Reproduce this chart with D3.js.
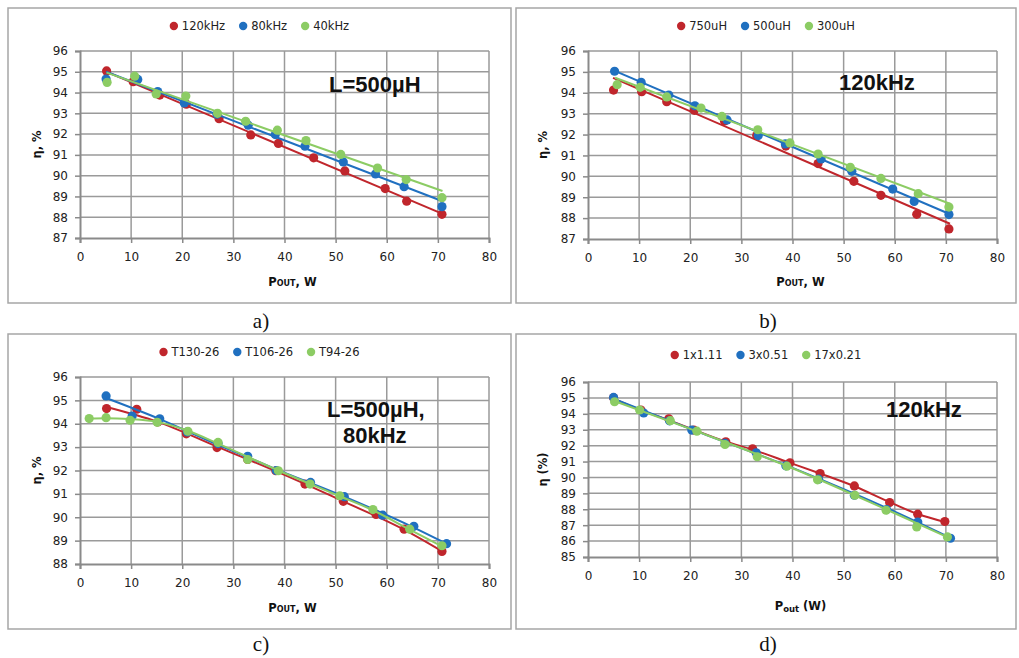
<!DOCTYPE html>
<html>
<head>
<meta charset="utf-8">
<script src="https://cdn.jsdelivr.net/npm/d3@7"></script>
<style>
  html, body { margin: 0; padding: 0; background: #fff; }
  svg { display: block; }
  text { font-family: "DejaVu Sans", Verdana, sans-serif; }
</style>
</head>
<body>
<svg id="chart" width="1019" height="658"></svg>
<script>
// ---------------- DATA ----------------
const xTicks = [0, 10, 20, 30, 40, 50, 60, 70, 80];
const yTicksA = [87, 88, 89, 90, 91, 92, 93, 94, 95, 96];
const yTicksB = [87, 88, 89, 90, 91, 92, 93, 94, 95, 96];
const yTicksC = [88, 89, 90, 91, 92, 93, 94, 95, 96];
const yTicksD = [85, 86, 87, 88, 89, 90, 91, 92, 93, 94, 95, 96];

const seriesColors = ["#c0262c", "#2070c0", "#8ccc64"];

// a) L=500uH, frequencies
const namesA = ["120kHz", "80kHz", "40kHz"];
const a120kHz = [[5.2,95.04],[10.4,94.52],[15.6,93.88],[20.8,93.44],[27.2,92.74],[33.4,91.96],[38.8,91.55],[45.7,90.86],[51.8,90.23],[59.7,89.38],[63.9,88.77],[70.8,88.14]];
const a80kHz  = [[5.1,94.65],[11.3,94.63],[15.2,94.05],[20.4,93.5],[26.8,92.96],[32.9,92.43],[38.2,91.98],[44.0,91.42],[51.5,90.66],[57.8,90.08],[63.4,89.47],[70.8,88.51]];
const a40kHz  = [[5.3,94.49],[10.7,94.79],[14.9,93.93],[20.7,93.83],[26.9,93.0],[32.4,92.62],[38.6,92.19],[44.2,91.69],[51.0,91.02],[58.2,90.37],[63.8,89.81],[70.8,88.94]];
const a120kHzTrend = [[5.0,95.02],[70.8,88.17]];
const a80kHzTrend  = [[5.1,95.0],[70.8,88.78]];
const a40kHzTrend  = [[5.2,94.96],[70.9,89.26]];

// b) 120kHz, inductances
const namesB = ["750uH", "500uH", "300uH"];
const b750uH = [[5.0,94.13],[10.5,94.05],[15.4,93.57],[20.8,93.16],[26.7,92.65],[33.0,91.95],[38.7,91.45],[45.0,90.61],[52.0,89.76],[57.3,89.09],[64.3,88.18],[70.6,87.48]];
const b500uH = [[5.2,95.03],[10.4,94.5],[15.8,93.89],[20.9,93.38],[27.2,92.7],[33.3,91.95],[38.6,91.55],[45.6,90.83],[51.6,90.24],[59.6,89.39],[63.8,88.8],[70.6,88.17]];
const b300uH = [[5.7,94.39],[10.2,94.26],[15.4,93.8],[22.1,93.27],[26.2,92.87],[33.2,92.23],[39.5,91.6],[45.0,91.07],[51.3,90.43],[57.3,89.9],[64.6,89.17],[70.6,88.53]];
const b750uHTrend = [[4.9,94.71],[70.8,87.73]];
const b500uHTrend = [[5.0,95.07],[70.6,88.21]];
const b300uHTrend = [[5.3,94.72],[70.8,88.69]];

// c) L=500uH, 80kHz, cores
const namesC = ["T130-26", "T106-26", "T94-26"];
const cT130 = [[5.2,94.65],[11.1,94.62],[15.2,94.08],[20.8,93.57],[26.8,92.98],[32.8,92.47],[38.3,91.99],[44.0,91.42],[51.5,90.68],[57.9,90.12],[63.4,89.49],[70.8,88.54]];
const cT106 = [[5.1,95.19],[10.2,94.33],[15.6,94.21],[21.0,93.65],[27.0,93.15],[32.8,92.61],[38.4,92.0],[45.1,91.49],[51.7,90.88],[59.2,90.09],[65.3,89.61],[71.7,88.87]];
const cT94  = [[1.8,94.22],[5.1,94.26],[9.8,94.15],[15.1,94.06],[21.1,93.68],[27.0,93.2],[32.8,92.47],[38.8,91.99],[45.0,91.42],[50.8,90.92],[57.3,90.33],[64.5,89.49],[70.8,88.78]];
const cT130Trend = [[5.2,94.72],[15.1,94.09],[27.0,93.0],[38.3,91.97],[51.5,90.68],[63.4,89.47],[71.0,88.52]];
const cT106Trend = [[5.1,95.1],[15.6,94.2],[27.0,93.1],[38.4,92.05],[51.7,90.88],[65.3,89.56],[71.7,88.87]];
const cT94Trend  = [[1.8,94.22],[5.1,94.24],[9.8,94.2],[15.1,94.08],[21.1,93.7],[27.0,93.15],[38.8,92.0],[50.8,90.9],[57.3,90.3],[64.5,89.47],[70.8,88.75]];

// d) 120kHz, wire configurations
const namesD = ["1x1.11", "3x0.51", "17x0.21"];
const d1x111  = [[5.0,95.01],[10.35,94.24],[15.8,93.69],[20.7,92.98],[26.95,92.24],[32.2,91.8],[39.5,90.92],[45.4,90.25],[52.1,89.47],[59.0,88.42],[64.5,87.69],[69.8,87.23]];
const d3x051  = [[5.0,95.03],[10.9,94.05],[15.95,93.56],[20.3,92.98],[26.8,92.14],[32.9,91.55],[38.7,90.73],[45.1,89.89],[52.1,88.88],[58.4,87.98],[64.5,87.2],[70.9,86.18]];
const d17x021 = [[5.2,94.76],[10.1,94.24],[16.1,93.57],[21.3,92.91],[26.8,92.07],[33.1,91.3],[38.9,90.71],[44.9,89.85],[52.2,88.88],[58.3,87.94],[64.3,86.89],[70.3,86.26]];
const d1x111Trend  = [[5.0,94.95],[10.4,94.22],[15.8,93.6],[20.7,93.0],[27.0,92.25],[32.2,91.75],[39.5,90.92],[45.4,90.25],[52.1,89.45],[59.0,88.45],[64.5,87.7],[69.8,87.2]];
const d3x051Trend  = [[5.0,94.95],[20.0,93.05],[40.0,90.6],[60.0,87.85],[70.9,86.2]];
const d17x021Trend = [[5.2,94.8],[20.0,93.05],[40.0,90.58],[60.0,87.75],[70.3,86.25]];

// ---------------- LAYOUT ----------------
const svg = d3.select("#chart");

const panels = [
  { box:[8,8,503,295], plot:[80,51,489,238], yDomain:[87,96], yTicks:yTicksA,
    names:namesA, data:[a120kHz,a80kHz,a40kHz], trends:[a120kHzTrend,a80kHzTrend,a40kHzTrend], curve:false,
    legendY:26, xLabel:"out", yLabel:"η, %", xLabelY:286, yLabelX:41,
    note:[["L=500µH",329,92]], caption:["a)",261,328] },
  { box:[516,8,500,295], plot:[588,51,997,239], yDomain:[87,96], yTicks:yTicksB,
    names:namesB, data:[b750uH,b500uH,b300uH], trends:[b750uHTrend,b500uHTrend,b300uHTrend], curve:false,
    legendY:26, xLabel:"out", yLabel:"η, %", xLabelY:286, yLabelX:547,
    note:[["120kHz",839,90]], caption:["b)",768,328] },
  { box:[8,334,503,295], plot:[80,377,489,564], yDomain:[88,96], yTicks:yTicksC,
    names:namesC, data:[cT130,cT106,cT94], trends:[cT130Trend,cT106Trend,cT94Trend], curve:true,
    legendY:352, xLabel:"out", yLabel:"η, %", xLabelY:612, yLabelX:41,
    note:[["L=500µH,",327,417],["80kHz",343,443]], caption:["c)",261,651] },
  { box:[516,334,500,295], plot:[588,382,997,557], yDomain:[85,96], yTicks:yTicksD,
    names:namesD, data:[d1x111,d3x051,d17x021], trends:[d1x111Trend,d3x051Trend,d17x021Trend], curve:true,
    legendY:355, xLabel:"paren", yLabel:"η (%)", xLabelY:610, yLabelX:547,
    note:[["120kHz",886,417]], caption:["d)",768,651] }
];

panels.forEach(p => {
  const g = svg.append("g");
  // panel frame
  g.append("rect").attr("x", p.box[0]).attr("y", p.box[1]).attr("width", p.box[2]).attr("height", p.box[3])
    .attr("fill", "#fff").attr("stroke", "#a6a6a6").attr("stroke-width", 1.5);

  const [x0, y0, x1, y1] = p.plot;
  const x = d3.scaleLinear().domain([0, 80]).range([x0, x1]);
  const y = d3.scaleLinear().domain(p.yDomain).range([y1, y0]);

  // gridlines
  const grid = g.append("g");
  grid.selectAll("line.h").data(p.yTicks.filter(v => v !== p.yDomain[0])).enter().append("line")
    .attr("x1", x0).attr("x2", x1).attr("y1", d => y(d)).attr("y2", d => y(d))
    .attr("stroke", "#9a9a9a").attr("stroke-width", 1.5);
  grid.selectAll("line.v").data(xTicks.filter(v => v !== 0)).enter().append("line")
    .attr("y1", y0).attr("y2", y1).attr("x1", d => x(d)).attr("x2", d => x(d))
    .attr("stroke", "#9a9a9a").attr("stroke-width", 1.5);

  // axes
  const yAxis = d3.axisLeft(y).tickValues(p.yTicks).tickSize(5).tickPadding(7).tickFormat(d3.format("d"));
  const xAxis = d3.axisBottom(x).tickValues(xTicks).tickSize(5).tickPadding(9).tickFormat(d3.format("d"));
  const ya = g.append("g").attr("transform", `translate(${x0},0)`).call(yAxis);
  const xa = g.append("g").attr("transform", `translate(0,${y1})`).call(xAxis);
  [ya, xa].forEach(a => {
    a.select(".domain").attr("stroke", "#8a8a8a").attr("stroke-width", 2);
    a.selectAll(".tick line").attr("stroke", "#8a8a8a").attr("stroke-width", 1.5);
    a.selectAll(".tick text").attr("fill", "#222").style("font-size", "12px")
      .style("font-family", "'DejaVu Sans', Verdana, sans-serif");
  });

  // series
  const line = d3.line().x(d => x(d[0])).y(d => y(d[1]));
  if (p.curve) line.curve(d3.curveMonotoneX);
  p.data.forEach((ser, i) => {
    const sg = g.append("g");
    sg.selectAll("circle").data(ser).enter().append("circle")
      .attr("cx", d => x(d[0])).attr("cy", d => y(d[1])).attr("r", 4.6)
      .attr("fill", seriesColors[i]);
    sg.append("path").datum(p.trends[i]).attr("d", line)
      .attr("fill", "none").attr("stroke", seriesColors[i]).attr("stroke-width", 2);
  });

  // legend (centered on panel)
  const lg = g.append("g");
  let cx = 0;
  p.names.forEach((n, i) => {
    lg.append("circle").attr("cx", cx + 4).attr("cy", p.legendY).attr("r", 4.2).attr("fill", seriesColors[i]);
    const t = lg.append("text").attr("x", cx + 12).attr("y", p.legendY + 4).text(n)
      .style("font-size", "11.5px").attr("fill", "#222");
    cx += 12 + t.node().getComputedTextLength() + 14;
  });
  const lw = cx - 14;
  lg.attr("transform", `translate(${p.box[0] + p.box[2] / 2 - lw / 2},0)`);

  // x label
  const xl = g.append("text").attr("x", (x0 + x1) / 2 + 8).attr("y", p.xLabelY)
    .attr("text-anchor", "middle").style("font-weight", "bold").style("font-size", "11.5px").attr("fill", "#111");
  if (p.xLabel === "out") {
    xl.append("tspan").text("P");
    xl.append("tspan").text("OUT").style("font-size", "8px");
    xl.append("tspan").text(", W");
  } else {
    xl.append("tspan").text("P");
    xl.append("tspan").text("out").style("font-size", "8.5px").attr("dy", 2);
    xl.append("tspan").text(" (W)").attr("dy", -2);
  }

  // y label
  g.append("text").attr("transform", `translate(${p.yLabelX},${(y0 + y1) / 2}) rotate(-90)`)
    .attr("text-anchor", "middle").style("font-weight", "bold").style("font-size", "11.5px").attr("fill", "#111")
    .text(p.yLabel);

  // annotation
  p.note.forEach(nt => {
    g.append("text").attr("x", nt[1]).attr("y", nt[2]).text(nt[0])
      .style("font-family", "'Liberation Sans', Arial, sans-serif").style("font-weight", "bold")
      .style("font-size", "22px").attr("fill", "#111");
  });

  // caption
  g.append("text").attr("x", p.caption[1]).attr("y", p.caption[2]).attr("text-anchor", "middle")
    .text(p.caption[0]).style("font-family", "'Liberation Serif', 'Times New Roman', serif")
    .style("font-size", "21px").attr("fill", "#111");
});
</script>
</body>
</html>
